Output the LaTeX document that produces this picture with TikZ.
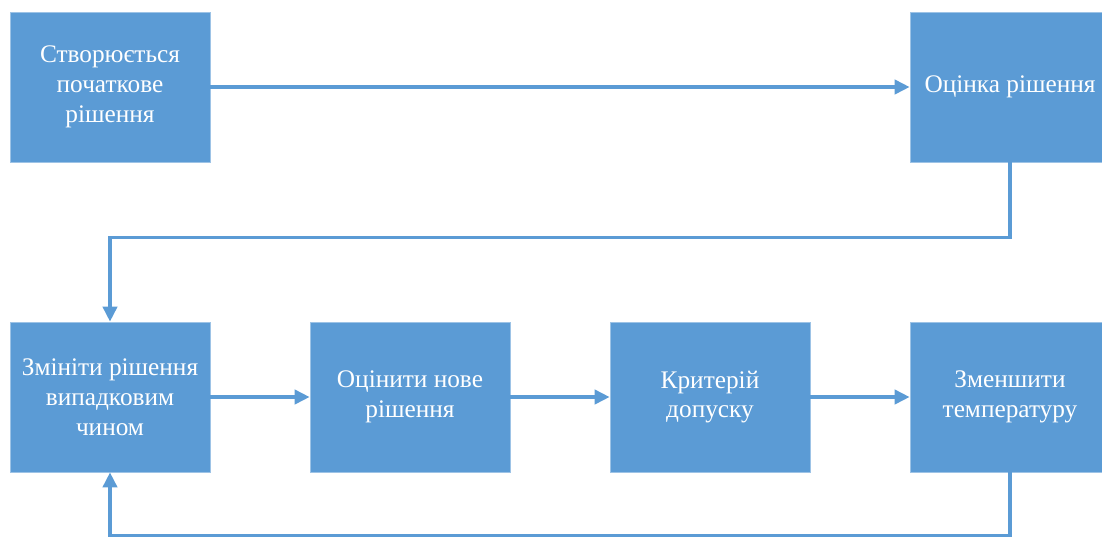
\documentclass[tikz,border=0pt]{standalone}
\usepackage{fontspec}
\setmainfont{Liberation Serif}
\usetikzlibrary{arrows.meta}
\definecolor{boxblue}{HTML}{5B9BD5}

\begin{document}
\begin{tikzpicture}[x=0.02cm,y=-0.02cm]
\tikzstyle{every node}=[minimum width=4cm, minimum height=3cm, inner sep=1pt, rectangle, fill=boxblue, draw=boxblue!60!white, text=white, align=center, font=\fontsize{14.4}{17}\selectfont]
\tikzstyle{link}=[draw=boxblue, line width=2pt, -{Triangle[length=8.5pt,width=8pt]}]
\useasboundingbox (0,0) rectangle (1102,538);
\draw (110,87) node (init) {Створюється\\початкове\\рішення};
\draw (1010,87) node (eval) {Оцінка рішення};
\draw (110,397) node (change) {Змініти рішення\\випадковим\\чином};
\draw (410,397) node (evalnew) {Оцінити нове\\рішення};
\draw (710,397) node (accept) {Критерій\\допуску};
\draw (1010,397) node (cool) {Зменшити\\температуру};
\draw[link] (init.east) -- (eval.west);
\draw[link] (eval.south) -- ++(0,75) -| (change.north);
\draw[link] (change.east) -- (evalnew.west);
\draw[link] (evalnew.east) -- (accept.west);
\draw[link] (accept.east) -- (cool.west);
\draw[link] (cool.south) -- ++(0,63) -| (change.south);
\end{tikzpicture}
\end{document}
